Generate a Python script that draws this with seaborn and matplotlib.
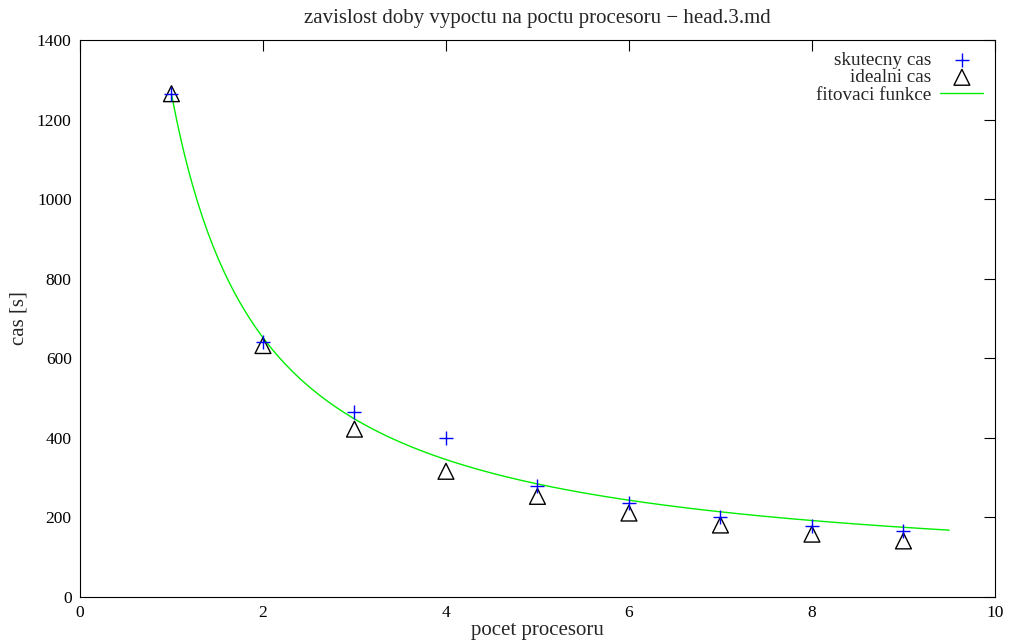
import numpy as np
import pandas as pd
import matplotlib
matplotlib.use("Agg")
import matplotlib.pyplot as plt
import seaborn as sns

# ================== DATA ==================
procesory = [1, 2, 3, 4, 5, 6, 7, 8, 9]
skutecny_cas = [1265, 640, 465, 400, 279, 236, 201, 178, 166]
idealni_cas = [1265, 632, 422, 316, 253, 211, 181, 158, 141]

# fit parameters a/x + c
fit_a = 1226
fit_c = 39
fit_od = 1.0
fit_do = 9.5

df = pd.DataFrame({"n": procesory, "real": skutecny_cas, "ideal": idealni_cas})
fit_x = np.linspace(fit_od, fit_do, 300)
fit_df = pd.DataFrame({"n": fit_x, "t": fit_a / fit_x + fit_c})

# ================== PLOT ==================
sns.set_style("white")
plt.rcParams["font.family"] = ["Liberation Serif", "DejaVu Serif"]
plt.rcParams["font.size"] = 12.5

fig = plt.figure(figsize=(10.16, 6.43), dpi=100)
ax = fig.add_axes([0.0787, 0.0715, 0.9006, 0.8663])

sns.scatterplot(data=df, x="n", y="real", marker="+", s=110, color="blue",
                linewidth=1.0, ax=ax, label="skutecny cas", zorder=3)
sns.scatterplot(data=df, x="n", y="ideal", marker="^", s=130, facecolor="none",
                edgecolor="black", linewidth=1.0, ax=ax, label="idealni cas", zorder=2)
sns.lineplot(data=fit_df, x="n", y="t", color="#00ee00", linewidth=1.0,
             ax=ax, label="fitovaci funkce", zorder=1)

ax.set_xlim(0, 10)
ax.set_ylim(0, 1400)
ax.set_xticks(range(0, 11, 2))
ax.set_yticks(range(0, 1401, 200))
ax.tick_params(direction="in", length=8, width=0.8, top=True, right=True,
               labelsize=12.5, colors="black", pad=6)
for s in ax.spines.values():
    s.set_color("black")
    s.set_linewidth(0.8)

ax.set_title("zavislost doby vypoctu na poctu procesoru \u2212 head.3.md", fontsize=15, pad=12)
ax.set_xlabel("pocet procesoru", fontsize=15, labelpad=0)
ax.set_ylabel("cas [s]", fontsize=15, labelpad=6)

ax.legend(loc="upper right", frameon=False, markerfirst=False, fontsize=13.8,
          labelspacing=0.0, handlelength=2.25, handletextpad=0.45,
          borderaxespad=0.2, bbox_to_anchor=(1.0, 1.0))

fig.savefig("out.png", dpi=100)
